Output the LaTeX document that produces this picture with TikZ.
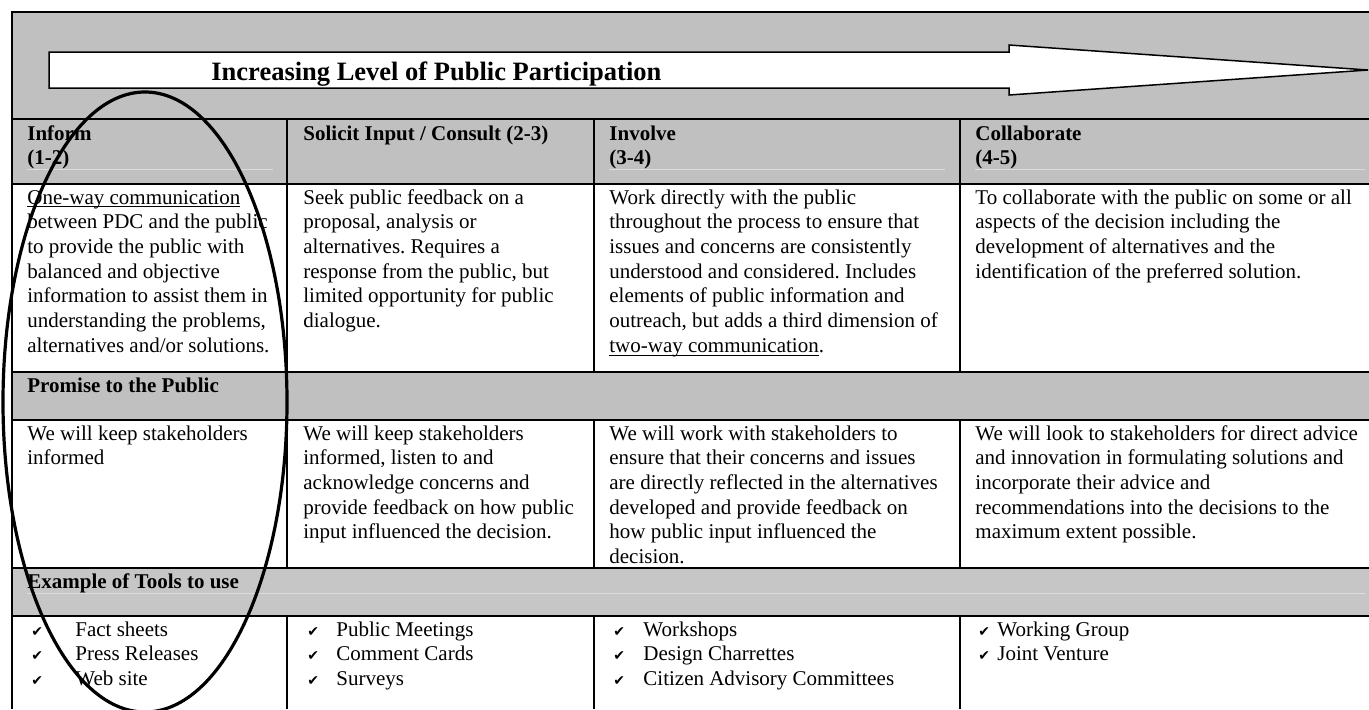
\documentclass[tikz,border=0pt]{standalone}
\usepackage{fontspec}
\setmainfont{Liberation Serif}
\newfontfamily\symfont{DejaVu Sans}
\usetikzlibrary{positioning}
\definecolor{band}{HTML}{C0C0C0}
\definecolor{toolband}{HTML}{C6C6C6}
\definecolor{faintline}{HTML}{DCDCDC}
\newcommand{\chk}{{\symfont\fontsize{7}{7}\selectfont ✔}}
\newcommand{\ul}[1]{\underline{\smash{#1}}}
\newcommand{\lines}[1]{\begin{tabular}[t]{@{}l@{}}#1\end{tabular}}
\frenchspacing

\begin{document}
\begin{tikzpicture}[x=0.5pt,y=-0.5pt,
	cell/.style={anchor=base west,inner sep=0pt,font=\fontsize{10.5}{12.35}\selectfont},
	head/.style={cell,font=\fontsize{10.5}{12.35}\selectfont\bfseries},
	rule/.style={line width=1pt},
	faint/.style={line width=0.5pt,draw=faintline}]
	\useasboundingbox (0,0) rectangle (1369,709);
	\clip (0,0) rectangle (1369,709);
	\fill[band] (12,12) rectangle (1369,184);
	\fill[band] (12,372) rectangle (1369,420);
	\fill[toolband] (12,568) rectangle (1369,616);
	\draw[faint] (27,169) -- (273,169) (609,169) -- (945,169) (975,169) -- (1365,169);
	\draw[faint] (27,593) -- (1365,593);
	\draw[rule] (1369,12) -- (12,12) -- (12,709);
	\foreach \y in {119,184,372,420,568,616}
		\draw[rule] (12,\y) -- (1369,\y);
	\foreach \x in {287,594,960} {
		\draw[rule] (\x,119) -- (\x,372);
		\draw[rule] (\x,420) -- (\x,568);
		\draw[rule] (\x,616) -- (\x,709);
	}
	\draw[line width=0.75pt,fill=white] (49,52) -- (1009,52) -- (1009,45) -- (1368,70)
		-- (1009,95) -- (1009,88) -- (49,88) -- cycle;
	\node[anchor=base west,inner sep=0pt,font=\fontsize{13.25}{15}\selectfont\bfseries] (title) at (211,80)
		{Increasing Level of Public Participation};

	\node[head] (inform) at (27,140) {\lines{Inform\\(1-2)}};
	\node[head] (consult) at (303,140) {Solicit Input / Consult (2-3)};
	\node[head] (involve) at (609,140) {\lines{Involve\\(3-4)}};
	\node[head] (collab) at (975,140) {\lines{Collaborate\\(4-5)}};

	\node[cell] (inform-d) at (27,204) {\lines{\ul{One-way communication}\\between PDC and the public\\to provide the public with\\balanced and objective\\information to assist them in\\understanding the problems,\\alternatives and/or solutions.}};
	\node[cell] (consult-d) at (303,204) {\lines{Seek public feedback on a\\proposal, analysis or\\alternatives. Requires a\\response from the public, but\\limited opportunity for public\\dialogue.}};
	\node[cell] (involve-d) at (609,204) {\lines{Work directly with the public\\throughout the process to ensure that\\issues and concerns are consistently\\understood and considered. Includes\\elements of public information and\\outreach, but adds a third dimension of\\\ul{two-way communication}.}};
	\node[cell] (collab-d) at (975,204) {\lines{To collaborate with the public on some or all\\aspects of the decision including the\\development of alternatives and the\\identification of the preferred solution.}};

	\node[head] (promise) at (27,392) {Promise to the Public};
	\node[cell] (inform-p) at (27,440) {\lines{We will keep stakeholders\\informed}};
	\node[cell] (consult-p) at (303,440) {\lines{We will keep stakeholders\\informed, listen to and\\acknowledge concerns and\\provide feedback on how public\\input influenced the decision.}};
	\node[cell] (involve-p) at (609,440) {\lines{We will work with stakeholders to\\ensure that their concerns and issues\\are directly reflected in the alternatives\\developed and provide feedback on\\how public input influenced the\\decision.}};
	\node[cell] (collab-p) at (975,440) {\lines{We will look to stakeholders for direct advice\\and innovation in formulating solutions and\\incorporate their advice and\\recommendations into the decisions to the\\maximum extent possible.}};

	\node[head] (tools) at (27,588) {Example of Tools to use};
	\node[cell] (inform-t) at (31,636) {\lines{\makebox[22pt][l]{\chk}Fact sheets\\\makebox[22pt][l]{\chk}Press Releases\\\makebox[22pt][l]{\chk}Web site}};
	\node[cell] (consult-t) at (307,636) {\lines{\makebox[14.5pt][l]{\chk}Public Meetings\\\makebox[14.5pt][l]{\chk}Comment Cards\\\makebox[14.5pt][l]{\chk}Surveys}};
	\node[cell] (involve-t) at (613,636) {\lines{\makebox[15pt][l]{\chk}Workshops\\\makebox[15pt][l]{\chk}Design Charrettes\\\makebox[15pt][l]{\chk}Citizen Advisory Committees}};
	\node[cell] (collab-t) at (978,636) {\lines{\makebox[9.5pt][l]{\chk}Working Group\\\makebox[9.5pt][l]{\chk}Joint Venture}};

	\draw[line width=1.6pt] (145,402) ellipse [x radius=142, y radius=310];
\end{tikzpicture}
\end{document}
